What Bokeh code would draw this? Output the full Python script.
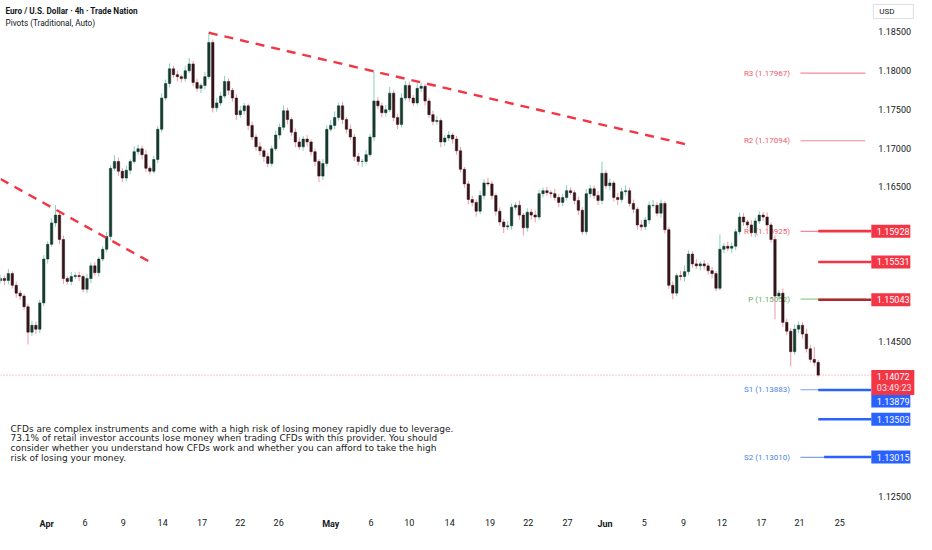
from bokeh.plotting import figure
from bokeh.models import Range1d, FixedTicker, Label, ColumnDataSource, NumeralTickFormatter
from bokeh.embed import file_html
from bokeh.resources import INLINE
from bokeh.core.properties import value

# ---------------- data ----------------
first_open = 1.15290
closes = [
    1.15318, 1.15292, 1.15381, 1.15230, 1.15129, 1.15091, 1.14953, 1.14626, 1.14714, 1.14664,
    1.15003, 1.15569, 1.15758, 1.16035, 1.16135, 1.15821, 1.15318, 1.15280, 1.15343, 1.15355,
    1.15343, 1.15179, 1.15318, 1.15481, 1.15393, 1.15569, 1.15695, 1.15858, 1.16739, 1.16827,
    1.16701, 1.16613, 1.16714, 1.16827, 1.16953, 1.16991, 1.16915, 1.16739, 1.16701, 1.16852,
    1.17242, 1.17645, 1.17833, 1.18022, 1.17947, 1.17921, 1.17896, 1.17997, 1.18085, 1.17846,
    1.17770, 1.17808, 1.17921, 1.18362, 1.17519, 1.17582, 1.17670, 1.17858, 1.17745, 1.17645,
    1.17431, 1.17481, 1.17544, 1.17292, 1.17142, 1.17016, 1.16965, 1.16890, 1.16802, 1.16991,
    1.17167, 1.17267, 1.17481, 1.17368, 1.17204, 1.17079, 1.17016, 1.17116, 1.17079, 1.16953,
    1.16827, 1.16638, 1.16802, 1.17242, 1.17292, 1.17393, 1.17544, 1.17368, 1.17242, 1.17142,
    1.16890, 1.16827, 1.16827, 1.16915, 1.17142, 1.17607, 1.17544, 1.17456, 1.17494, 1.17708,
    1.17393, 1.17305, 1.17645, 1.17808, 1.17645, 1.17582, 1.17770, 1.17796, 1.17607, 1.17431,
    1.17343, 1.17355, 1.17079, 1.17129, 1.17167, 1.17116, 1.16965, 1.16726, 1.16538, 1.16336,
    1.16299, 1.16186, 1.16387, 1.16550, 1.16538, 1.16387, 1.16186, 1.16047, 1.15984, 1.15997,
    1.16236, 1.16261, 1.16135, 1.15972, 1.16173, 1.16135, 1.16110, 1.16412, 1.16450, 1.16425,
    1.16412, 1.16362, 1.16299, 1.16362, 1.16450, 1.16425, 1.16324, 1.16198, 1.15921, 1.16412,
    1.16475, 1.16387, 1.16324, 1.16676, 1.16513, 1.16550, 1.16362, 1.16336, 1.16437, 1.16450,
    1.16286, 1.16211, 1.16009, 1.15984, 1.16072, 1.16261, 1.16261, 1.16160, 1.16286, 1.15947,
    1.15230, 1.15129, 1.15355, 1.15343, 1.15406, 1.15632, 1.15506, 1.15481, 1.15506, 1.15481,
    1.15418, 1.15381, 1.15192, 1.15695, 1.15733, 1.15708, 1.15733, 1.15921, 1.16110, 1.16047,
    1.16009, 1.15909, 1.16060, 1.16135, 1.16110, 1.16009, 1.15821, 1.15091, 1.15129, 1.14752,
    1.14638, 1.14374, 1.14664, 1.14714, 1.14601, 1.14412, 1.14274, 1.14236, 1.14072,
]
# upper / lower wick lengths beyond the body, in pips
wick_up = [
    5, 4, 6, 3, 5, 4, 3, 4, 6, 5,   4, 5, 4, 6, 13, 4, 5, 3, 6, 4,
    5, 3, 6, 4, 5, 3, 4, 6, 4, 8,   5, 4, 6, 3, 7, 5, 4, 6, 3, 5,
    4, 6, 5, 7, 4, 5, 3, 6, 8, 4,   5, 3, 6, 14, 4, 6, 5, 7, 4, 3,
    5, 6, 4, 3, 5, 4, 6, 3, 5, 4,   6, 5, 7, 4, 3, 5, 6, 4, 5, 3,
    4, 3, 6, 5, 7, 8, 4, 5, 3, 6,   4, 5, 3, 6, 4, 39, 5, 4, 6, 8,
    4, 5, 6, 6, 5, 4, 7, 5, 3, 4,   5, 6, 3, 4, 5, 3, 4, 5, 3, 4,
    5, 4, 6, 5, 7, 4, 3, 5, 4, 6,   5, 4, 6, 3, 5, 4, 6, 5, 4, 5,
    3, 6, 4, 5, 7, 4, 3, 5, 4, 6,   5, 4, 6, 15, 4, 5, 3, 6, 5, 7,
    4, 5, 3, 6, 4, 5, 7, 4, 5, 3,   4, 5, 3, 6, 8, 5, 4, 6, 3, 5,
    4, 5, 3, 19, 4, 6, 5, 4, 6, 5,  3, 6, 4, 5, 4, 6, 3, 5, 4, 6,
    5, 4, 6, 5, 4, 7, 5, 16, 3,
]
wick_dn = [
    4, 6, 5, 4, 6, 5, 4, 16, 5, 6,  5, 4, 6, 3, 5, 6, 7, 4, 5, 3,
    6, 4, 5, 6, 4, 5, 3, 4, 5, 3,   6, 5, 4, 5, 3, 4, 6, 5, 4, 3,
    5, 4, 3, 5, 4, 6, 5, 4, 3, 5,   4, 6, 5, 3, 6, 5, 4, 3, 6, 5,
    7, 4, 5, 6, 4, 5, 6, 7, 5, 4,   3, 5, 4, 6, 5, 7, 4, 5, 6, 5,
    6, 8, 5, 4, 3, 5, 4, 6, 5, 4,   6, 5, 7, 4, 3, 5, 4, 6, 5, 3,
    5, 6, 4, 3, 5, 4, 3, 5, 6, 4,   5, 4, 7, 5, 4, 6, 5, 4, 5, 6,
    5, 7, 4, 5, 3, 5, 6, 5, 8, 4,   5, 4, 6, 10, 5, 6, 7, 4, 5, 4,
    5, 4, 6, 5, 4, 3, 5, 6, 4, 4,   5, 4, 6, 5, 4, 6, 5, 7, 4, 5,
    4, 5, 6, 5, 4, 5, 3, 4, 6, 5,   5, 8, 4, 5, 6, 4, 5, 4, 6, 5,
    5, 6, 4, 3, 5, 4, 6, 5, 4, 5,   4, 5, 6, 4, 5, 6, 4, 30, 5, 6,
    5, 19, 4, 5, 6, 5, 4, 5, 2,
]

# dashed trend lines (bar index, price)
trend1_x = [0, 38]
trend1_y = [1.16601, 1.15531]
trend2_x = [53, 175]
trend2_y = [1.18487, 1.17041]

# pivots (Traditional, Auto)
pivot_names = ["R3", "R2", "R1", "P", "S1", "S2"]
pivot_vals = [1.17967, 1.17094, 1.15925, 1.15052, 1.13883, 1.13010]
pivot_kind = ["r", "r", "r", "p", "s", "s"]

# horizontal rays with price-scale tags
ray_vals = [1.15928, 1.15531, 1.15043, 1.13879, 1.13503, 1.13015]
ray_kind = ["red", "red", "dark", "blue", "blue", "blue"]
ray_start = [208, 208, 208, 208, 208, 209.5]
ray_tag_shift = [0, 0, 0, 11, 0, 0]   # px the tag is pushed down to clear the price tag

last_price = 1.14072
countdown = "03:49:23"
currency = "USD"

# axis ticks
y_ticks = [1.125, 1.145, 1.165, 1.170, 1.175, 1.180, 1.185]
x_tick_pos = [11.75, 21.5, 31.25, 41.25, 51.25, 61.0, 70.75, 84.0, 94.25, 104.0, 114.25,
              124.5, 134.25, 144.25, 153.75, 163.75, 173.75, 183.5, 193.5, 203.25, 213.5]
x_tick_lab = ["Apr", "6", "9", "14", "17", "22", "26", "May", "6", "10", "14",
              "19", "22", "27", "Jun", "5", "9", "12", "17", "21", "25"]
months = {"Apr", "May", "Jun"}

title1 = "Euro / U.S. Dollar \u00b7 4h \u00b7 Trade Nation"
title2 = "Pivots (Traditional, Auto)"
disclaimer = [
    "CFDs are complex instruments and come with a high risk of losing money rapidly due to leverage.",
    "73.1% of retail investor accounts lose money when trading CFDs with this provider. You should",
    "consider whether you understand how CFDs work and whether you can afford to take the high",
    "risk of losing your money.",
]

# ---------------- layout / styles ----------------
W, H = 916, 534
X_MIN, X_MAX = 0, 233            # whole canvas width in bar units
Y_MIN, Y_MAX = 1.12016, 1.18903  # whole canvas height in price units
PX_X = (X_MAX - X_MIN) / W       # bar units per pixel
PX_Y = (Y_MAX - Y_MIN) / H       # price units per pixel
PRICE_SCALE_X = 221.0            # where the price scale starts
TIME_SCALE_Y = Y_MAX - 509 * PX_Y
TAG_LEFT = PRICE_SCALE_X + 2 * PX_X
TAG_W, TAG_H = 39, 13
TXT = "#131722"
RED = "#f23645"
BLUE = "#2962ff"
FONT = "Roboto"

opens = [first_open] + closes[:-1]
n = len(closes)
idx = list(range(n))
highs = [max(o, c) + u * 0.0001 for o, c, u in zip(opens, closes, wick_up)]
lows = [min(o, c) - d * 0.0001 for o, c, d in zip(opens, closes, wick_dn)]
up = [c >= o for o, c in zip(opens, closes)]
body_col = ["#153a2f" if u else "#341419" for u in up]
wick_col = ["#86cfbf" if u else "#f29aa5" for u in up]
src = ColumnDataSource(dict(x=idx, o=opens, c=closes, h=highs, l=lows,
                            bc=body_col, wc=wick_col))

p = figure(width=W, height=H, output_backend="svg", toolbar_location=None,
           x_range=Range1d(X_MIN, X_MAX), y_range=Range1d(Y_MIN, Y_MAX),
           y_axis_location="right", min_border=0)
p.outline_line_color = None
p.grid.visible = False
p.background_fill_color = "white"
p.border_fill_color = "white"

# axes drawn at fixed positions inside the canvas
p.yaxis.fixed_location = PRICE_SCALE_X
p.xaxis.fixed_location = TIME_SCALE_Y
p.yaxis.ticker = FixedTicker(ticks=y_ticks)
p.yaxis.formatter = NumeralTickFormatter(format="0.00000")
p.xaxis.ticker = FixedTicker(ticks=x_tick_pos)
p.xaxis.major_label_overrides = {pos: ("" if lab in months else lab)
                                 for pos, lab in zip(x_tick_pos, x_tick_lab)}
for ax in (p.xaxis, p.yaxis):
    ax.axis_line_color = None
    ax.major_tick_line_color = None
    ax.minor_tick_line_color = None
    ax.major_tick_out = 0
    ax.major_tick_in = 0
    ax.minor_tick_out = 0
    ax.minor_tick_in = 0
    ax.major_label_text_color = TXT
    ax.major_label_text_font = FONT
    ax.major_label_text_font_size = "9px"
p.yaxis.major_label_standoff = 9
p.xaxis.major_label_standoff = 9

# bold month labels on the time scale
mpos = [pos for pos, lab in zip(x_tick_pos, x_tick_lab) if lab in months]
mlab = [lab for lab in x_tick_lab if lab in months]
p.text(x=mpos, y=[TIME_SCALE_Y] * len(mpos), text=mlab, y_offset=9,
       text_color=TXT, text_font=value(FONT), text_font_size="9px",
       text_font_style="bold", text_align="center", text_baseline="top")

# pivot labels (under candles)
pcol = {"r": "#ef5a6c", "p": "#5fae63", "s": "#4f7fe8"}
lcol = {"r": "#f58a96", "p": "#8fcf92", "s": "#7fa2f0"}
p.text(x=[200.8] * len(pivot_vals), y=pivot_vals,
       text=[f"{nm} ({v:.5f})" for nm, v in zip(pivot_names, pivot_vals)],
       text_color=[pcol[k] for k in pivot_kind], text_font=value(FONT),
       text_font_size="8px", text_align="right", text_baseline="middle")
p.segment(x0=[203.5] * len(pivot_vals), x1=[220.0] * len(pivot_vals),
          y0=pivot_vals, y1=pivot_vals, line_color=[lcol[k] for k in pivot_kind],
          line_width=1.2)

# last-price dotted line
p.segment(x0=[X_MIN], x1=[TAG_LEFT], y0=[last_price], y1=[last_price],
          line_color=RED, line_alpha=0.6, line_dash="1 2", line_width=1)

# candles
p.segment(x0="x", x1="x", y0="l", y1="h", line_color="wc", line_width=1, source=src)
p.vbar(x="x", width=0.62, top="c", bottom="o", fill_color="bc", line_color="bc",
       line_width=0.5, source=src)

# trend lines
p.line(trend1_x, trend1_y, line_color=RED, line_width=2.4, line_dash="9 7")
p.line(trend2_x, trend2_y, line_color=RED, line_width=2.4, line_dash="9 7")

# horizontal rays
rcol = {"red": RED, "dark": "#b2262f", "blue": BLUE}
p.segment(x0=ray_start, x1=[TAG_LEFT] * len(ray_vals), y0=ray_vals, y1=ray_vals,
          line_color=[rcol[k] for k in ray_kind], line_width=2.6)

# price-scale tags (boxes + text)
tag_y = [v - s * PX_Y for v, s in zip(ray_vals, ray_tag_shift)]
tag_bg = [BLUE if k == "blue" else RED for k in ray_kind]
p.rect(x=[TAG_LEFT + TAG_W / 2 * PX_X] * len(tag_y), y=tag_y, width=TAG_W, height=TAG_H,
       width_units="screen", height_units="screen", fill_color=tag_bg, line_color=None)
p.text(x=[TAG_LEFT + 5.5 * PX_X] * len(tag_y), y=tag_y, text=[f"{v:.5f}" for v in ray_vals],
       text_color="white", text_font=value(FONT), text_font_size="9px",
       text_baseline="middle")

# last price tag with countdown
LP_W, LP_H = 43, 25
p.rect(x=[TAG_LEFT + LP_W / 2 * PX_X], y=[last_price - 7.5 * PX_Y], width=LP_W, height=LP_H,
       width_units="screen", height_units="screen", fill_color=RED, line_color=None)
p.text(x=[TAG_LEFT + 5.5 * PX_X] * 2, y=[last_price - 1 * PX_Y, last_price - 13 * PX_Y],
       text=[f"{last_price:.5f}", countdown], text_color=["white", "#fde3e6"],
       text_font=value(FONT), text_font_size="9px", text_baseline="middle")

# currency box
p.rect(x=[TAG_LEFT + 22 * PX_X], y=[Y_MAX - 11 * PX_Y], width=40, height=14,
       width_units="screen", height_units="screen", fill_color="white",
       line_color="#dcdfe6", line_width=1)
p.text(x=[TAG_LEFT + 8 * PX_X], y=[Y_MAX - 11 * PX_Y], text=[currency], text_color=TXT,
       text_font=value(FONT), text_font_size="8px", text_baseline="middle")

# titles
p.add_layout(Label(x=5, y=H - 10, x_units="screen", y_units="screen", text=title1,
                   text_color=TXT, text_font=FONT, text_font_size="8.2px",
                   text_font_style="bold", text_baseline="middle"))
p.add_layout(Label(x=5, y=H - 22, x_units="screen", y_units="screen", text=title2,
                   text_color=TXT, text_font=FONT, text_font_size="8.2px",
                   text_baseline="middle"))

# disclaimer
for i, line in enumerate(disclaimer):
    p.add_layout(Label(x=10, y=H - 428 - 9.7 * i, x_units="screen", y_units="screen",
                       text=line, text_color="#1a1a1a", text_font="DejaVu Sans",
                       text_font_size="9px", text_baseline="middle"))

open("out.html", "w").write(file_html(p, INLINE))
